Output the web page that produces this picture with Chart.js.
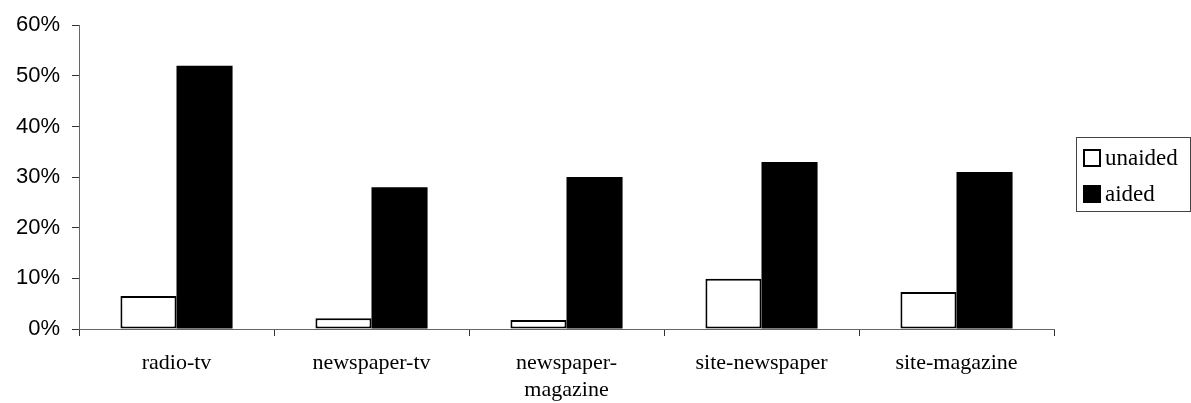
<!DOCTYPE html>
<html>
<head>
<meta charset="utf-8">
<script src="https://cdn.jsdelivr.net/npm/chart.js@4"></script>
<style>
    body { margin: 0; background: #fff; }
    #wrap { width: 1191px; height: 403px; }
</style>
</head>
<body>
<div id="wrap"><canvas id="chart"></canvas></div>
<script>
// chart data
const categories = ['radio-tv', 'newspaper-tv', ['newspaper-', 'magazine'], 'site-newspaper', 'site-magazine'];
const unaided = [6.5, 2.1, 1.8, 9.9, 7.3];
const aided = [52, 28, 30, 33, 31];
const yTicks = [0, 10, 20, 30, 40, 50, 60];

// simple boxed legend on the right, like the original
const boxLegend = {
    id: 'boxLegend',
    afterDraw(chart) {
        const ctx = chart.ctx;
        const x = 1076, y = 137, w = 114, h = 74;
        ctx.save();
        ctx.strokeStyle = '#444';
        ctx.lineWidth = 1;
        ctx.strokeRect(x + 0.5, y + 0.5, w, h);
        ctx.font = '23px "Liberation Serif", "Times New Roman", serif';
        ctx.textBaseline = 'middle';
        chart.data.datasets.forEach((ds, i) => {
            const cy = y + 21 + i * 36;
            ctx.fillStyle = ds.backgroundColor;
            ctx.fillRect(x + 8, cy - 8, 16, 16);
            ctx.strokeStyle = '#000';
            ctx.lineWidth = 2;
            ctx.strokeRect(x + 8, cy - 8, 16, 16);
            ctx.fillStyle = '#000';
            ctx.fillText(ds.label, x + 29, cy + 1);
        });
        ctx.restore();
    }
};

new Chart(document.getElementById('chart'), {
    type: 'bar',
    data: {
        labels: categories,
        datasets: [
            {
                label: 'unaided',
                data: unaided,
                backgroundColor: '#ffffff',
                borderColor: '#000000',
                borderWidth: 2,
                borderSkipped: false
            },
            {
                label: 'aided',
                data: aided,
                backgroundColor: '#000000',
                borderColor: '#000000',
                borderWidth: 0
            }
        ]
    },
    options: {
        responsive: true,
        maintainAspectRatio: false,
        animation: false,
        layout: { padding: { top: 21, right: 137, left: 0, bottom: 0 } },
        datasets: {
            bar: { categoryPercentage: 0.575, barPercentage: 1.0 }
        },
        plugins: {
            legend: { display: false },
            tooltip: { enabled: false }
        },
        scales: {
            x: {
                grid: {
                    display: true,
                    drawOnChartArea: false,
                    drawTicks: true,
                    tickLength: 7,
                    color: '#333'
                },
                border: { color: '#666', width: 1 },
                ticks: {
                    color: '#000',
                    padding: 14,
                    maxRotation: 0,
                    autoSkip: false,
                    font: { family: '"Liberation Serif", "Times New Roman", serif', size: 22, lineHeight: 1.22 }
                },
                afterFit(scale) { scale.height = 74; }
            },
            y: {
                min: 0,
                max: 60,
                afterBuildTicks(scale) {
                    scale.ticks = yTicks.map(v => ({ value: v }));
                },
                grid: {
                    display: true,
                    drawOnChartArea: false,
                    drawTicks: true,
                    tickLength: 7,
                    color: '#333'
                },
                border: { color: '#666', width: 1 },
                ticks: {
                    color: '#000',
                    padding: 12,
                    callback: v => v + '%',
                    font: { family: '"Liberation Sans", Arial, sans-serif', size: 22 }
                },
                afterFit(scale) { scale.width = 79; }
            }
        }
    },
    plugins: [boxLegend]
});
</script>
</body>
</html>
